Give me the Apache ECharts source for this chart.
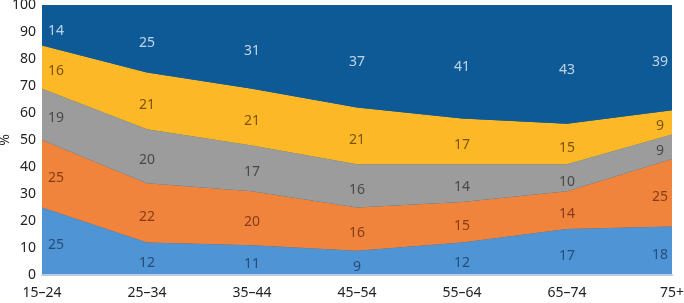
<!DOCTYPE html>
<html>
<head>
<meta charset="utf-8">
<script src="https://cdn.jsdelivr.net/npm/echarts@6/dist/echarts.min.js"></script>
<style>
  html, body { margin: 0; padding: 0; background: #fff; }
  #chart { width: 684px; height: 303px; }
</style>
</head>
<body>
<div id="chart"></div>
<script>
const categories = ['15–24', '25–34', '35–44', '45–54', '55–64', '65–74', '75+'];
const band1 = [25, 12, 11, 9, 12, 17, 18];
const band2 = [25, 22, 20, 16, 15, 14, 25];
const band3 = [19, 20, 17, 16, 14, 10, 9];
const band4 = [16, 21, 21, 21, 17, 15, 9];
const band5 = [14, 25, 31, 37, 41, 43, 39];
const yTicks = [0, 10, 20, 30, 40, 50, 60, 70, 80, 90, 100];

const bands = [band1, band2, band3, band4, band5];
const fills = ['#4f94d4', '#f0843c', '#9c9c9c', '#fcb826', '#0e5a97'];
const labelColors = ['#1c3a63', '#6a2a0c', '#333333', '#5a3a06', '#e8f1fb'];

const font = 'Noto Sans';
const chart = echarts.init(document.getElementById('chart'));

const series = [];
// stacked areas
bands.forEach((b, i) => {
  series.push({
    type: 'line',
    stack: 'all',
    data: b,
    symbol: 'none',
    lineStyle: { width: 0 },
    areaStyle: { color: fills[i], opacity: 1 },
    silent: true,
    z: 2
  });
});
// value labels placed at the middle of each band
bands.forEach((b, i) => {
  const mids = b.map((v, j) => {
    let base = 0;
    for (let k = 0; k < i; k++) base += bands[k][j];
    return { value: [j, base + v / 2 - 1.5], raw: v };
  });
  series.push({
    type: 'scatter',
    data: mids,
    symbolSize: 0,
    z: 5,
    label: {
      show: true,
      position: 'inside',
      color: labelColors[i],
      fontFamily: font,
      fontSize: 14,
      formatter: p => p.data.raw
    },
    labelLayout: p => {
      if (p.dataIndex === 0) return { dx: 14 };
      if (p.dataIndex === categories.length - 1) return { dx: -12 };
      return {};
    }
  });
});

const option = {
  animation: false,
  grid: {
    left: 42, right: 12, top: 5, bottom: 28,
    outerBoundsMode: 'none',
    containLabel: false,
    show: true, backgroundColor: '#0e5a97', borderWidth: 0
  },
  xAxis: {
    type: 'category',
    data: categories,
    boundaryGap: false,
    axisLine: { show: true, lineStyle: { color: '#b8cce4', width: 2 } },
    axisTick: { show: false },
    axisLabel: { color: '#222', fontFamily: font, fontSize: 14, margin: 11, interval: 0 },
    z: 10
  },
  yAxis: {
    type: 'value',
    min: 0, max: 100, interval: 10,
    name: '%',
    nameLocation: 'middle',
    nameGap: 30,
    nameRotate: 90,
    nameMoveOverlap: false,
    nameTextStyle: { color: '#222', fontFamily: font, fontSize: 14 },
    axisLine: { show: false },
    axisTick: { show: false },
    splitLine: { show: false },
    axisLabel: {
      color: '#222', fontFamily: font, fontSize: 14, margin: 6,
      formatter: v => yTicks.includes(v) ? String(v) : ''
    }
  },
  series: series
};
chart.setOption(option);
</script>
</body>
</html>
